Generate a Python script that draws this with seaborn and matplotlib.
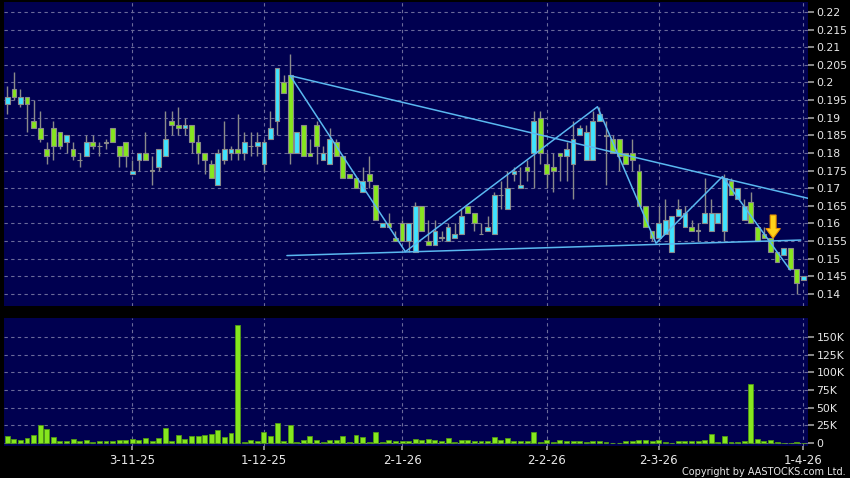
import numpy as np
import pandas as pd
import matplotlib
matplotlib.use("Agg")
import matplotlib.pyplot as plt
import seaborn as sns
from matplotlib.patches import FancyArrow
from matplotlib.ticker import FixedLocator, FuncFormatter

# ---------------- data ----------------
opens = [0.194, 0.198, 0.194, 0.196, 0.189, 0.187, 0.181, 0.187, 0.186, 0.183,
         0.181, 0.178, 0.179, 0.183, 0.182, 0.183, 0.187, 0.182, 0.183, 0.174,
         0.178, 0.180, 0.175, 0.176, 0.179, 0.189, 0.188, 0.187, 0.188, 0.183,
         0.180, 0.177, 0.171, 0.178, 0.180, 0.181, 0.180, 0.182, 0.182, 0.177,
         0.184, 0.189, 0.200, 0.202, 0.180, 0.188, 0.180, 0.188, 0.178, 0.177,
         0.183, 0.179, 0.174, 0.173, 0.169, 0.174, 0.171, 0.159, 0.160, 0.156,
         0.160, 0.155, 0.152, 0.165, 0.155, 0.154, 0.156, 0.155, 0.156, 0.157,
         0.165, 0.163, 0.157, 0.158, 0.157, 0.168, 0.164, 0.174, 0.170, 0.176,
         0.180, 0.190, 0.177, 0.176, 0.180, 0.179, 0.177, 0.185, 0.178, 0.178,
         0.189, 0.185, 0.184, 0.184, 0.180, 0.180, 0.175, 0.165, 0.158, 0.156,
         0.157, 0.152, 0.162, 0.159, 0.159, 0.158, 0.160, 0.158, 0.160, 0.158,
         0.172, 0.167, 0.161, 0.166, 0.159, 0.157, 0.156, 0.152, 0.151, 0.153,
         0.147, 0.144]
highs = [0.199, 0.203, 0.198, 0.196, 0.195, 0.192, 0.183, 0.189, 0.186, 0.185,
         0.183, 0.180, 0.185, 0.185, 0.183, 0.184, 0.187, 0.182, 0.183, 0.178,
         0.180, 0.186, 0.179, 0.181, 0.192, 0.192, 0.193, 0.190, 0.188, 0.185,
         0.180, 0.178, 0.181, 0.189, 0.182, 0.191, 0.186, 0.186, 0.186, 0.184,
         0.192, 0.204, 0.202, 0.208, 0.186, 0.188, 0.184, 0.189, 0.182, 0.187,
         0.184, 0.179, 0.174, 0.173, 0.176, 0.179, 0.171, 0.160, 0.163, 0.158,
         0.161, 0.160, 0.166, 0.165, 0.161, 0.161, 0.158, 0.160, 0.160, 0.164,
         0.165, 0.163, 0.160, 0.162, 0.169, 0.172, 0.175, 0.176, 0.176, 0.178,
         0.192, 0.192, 0.180, 0.180, 0.180, 0.183, 0.189, 0.188, 0.188, 0.192,
         0.193, 0.189, 0.185, 0.184, 0.180, 0.184, 0.177, 0.165, 0.158, 0.165,
         0.167, 0.162, 0.167, 0.165, 0.161, 0.160, 0.173, 0.167, 0.163, 0.174,
         0.173, 0.170, 0.167, 0.169, 0.159, 0.159, 0.156, 0.152, 0.153, 0.153,
         0.147, 0.145]
lows = [0.191, 0.195, 0.193, 0.186, 0.187, 0.183, 0.177, 0.178, 0.181, 0.180,
        0.178, 0.176, 0.179, 0.181, 0.179, 0.181, 0.183, 0.176, 0.176, 0.174,
        0.175, 0.178, 0.171, 0.175, 0.179, 0.185, 0.185, 0.185, 0.180, 0.177,
        0.174, 0.173, 0.171, 0.177, 0.178, 0.178, 0.178, 0.179, 0.179, 0.175,
        0.184, 0.185, 0.197, 0.177, 0.180, 0.179, 0.179, 0.177, 0.178, 0.177,
        0.179, 0.173, 0.173, 0.170, 0.169, 0.170, 0.161, 0.159, 0.159, 0.155,
        0.155, 0.152, 0.152, 0.158, 0.154, 0.154, 0.155, 0.155, 0.156, 0.157,
        0.163, 0.158, 0.157, 0.158, 0.157, 0.164, 0.164, 0.172, 0.170, 0.172,
        0.170, 0.177, 0.170, 0.169, 0.172, 0.172, 0.167, 0.185, 0.178, 0.178,
        0.189, 0.171, 0.180, 0.175, 0.177, 0.175, 0.165, 0.159, 0.155, 0.155,
        0.157, 0.152, 0.162, 0.159, 0.158, 0.155, 0.160, 0.158, 0.160, 0.155,
        0.168, 0.167, 0.161, 0.160, 0.155, 0.156, 0.152, 0.149, 0.151, 0.147,
        0.140, 0.144]
closes = [0.196, 0.196, 0.196, 0.194, 0.187, 0.184, 0.179, 0.182, 0.182, 0.185,
          0.179, 0.178, 0.183, 0.182, 0.182, 0.183, 0.183, 0.179, 0.179, 0.175,
          0.180, 0.178, 0.175, 0.181, 0.184, 0.188, 0.187, 0.188, 0.183, 0.180,
          0.178, 0.173, 0.180, 0.181, 0.181, 0.180, 0.183, 0.182, 0.183, 0.183,
          0.187, 0.204, 0.197, 0.180, 0.186, 0.179, 0.179, 0.182, 0.180, 0.184,
          0.179, 0.173, 0.173, 0.170, 0.172, 0.172, 0.161, 0.160, 0.159, 0.155,
          0.155, 0.160, 0.165, 0.158, 0.154, 0.158, 0.156, 0.159, 0.157, 0.162,
          0.163, 0.160, 0.157, 0.159, 0.168, 0.168, 0.170, 0.175, 0.171, 0.175,
          0.189, 0.180, 0.174, 0.175, 0.179, 0.181, 0.184, 0.187, 0.186, 0.189,
          0.191, 0.185, 0.180, 0.179, 0.177, 0.178, 0.165, 0.159, 0.156, 0.160,
          0.161, 0.162, 0.164, 0.163, 0.158, 0.158, 0.163, 0.163, 0.163, 0.173,
          0.168, 0.170, 0.165, 0.160, 0.155, 0.156, 0.152, 0.149, 0.153, 0.147,
          0.143, 0.145]
volumes = [9400, 5700, 3800, 7000, 11800, 26000, 19800, 8000, 2400, 2400,
           5700, 3300, 4000, 1400, 2800, 2800, 2800, 4000, 4000, 5700,
           5000, 6600, 2400, 6600, 20800, 2800, 11800, 5700, 10400, 9400,
           11300, 12700, 18400, 8500, 14200, 166500, 1400, 5000, 2800, 15000,
           10400, 27800, 3300, 25000, 1000, 3800, 9400, 3800, 1400, 5000,
           4000, 9900, 1400, 11300, 8000, 1400, 15600, 1400, 4000, 2400,
           3300, 3000, 5700, 3800, 5700, 3800, 2800, 6600, 1400, 4000,
           4000, 2400, 2400, 2400, 8500, 3800, 7000, 2800, 2800, 2800,
           15000, 1400, 4700, 1400, 3800, 2400, 2400, 2800, 1400, 2400,
           2400, 1400, 200, 500, 2400, 2400, 5000, 3800, 2800, 3800,
           1000, 200, 2400, 2400, 2400, 2800, 3800, 12300, 1400, 10400,
           1400, 1400, 2400, 83000, 6000, 2400, 5000, 1400, 200, 200,
           1400, 300]

tick_index = [19, 39, 60, 82, 99, 121]
tick_labels = ["3-11-25", "1-12-25", "2-1-26", "2-2-26", "2-3-26", "1-4-26"]

# drawn trend lines (candle index, price)
upper_line_x = [43, 122]
upper_line_y = [0.2019, 0.1670]
zigzag_x = [43, 60.5, 89.7, 98.6, 108.7, 119]
zigzag_y = [0.2019, 0.1520, 0.1931, 0.1544, 0.1733, 0.1468]
support_x = [42.5, 120.6]
support_y = [0.1509, 0.1553]
arrow_x = 116.4
arrow_top = 0.1624
arrow_bottom = 0.1558

# ---------------- styling ----------------
sns.set_theme(style="dark")
plt.rcParams['font.family'] = ['DejaVu Sans']

BG = '#000050'
UP = '#3fe3ff'
DOWN = '#86e61e'
EDGE = '#8a8a8a'
GRID = '#6a6a9a'
TXT = '#e8e8e8'
LINE = '#5ab8f0'

df = pd.DataFrame({'idx': np.arange(len(opens)), 'open': opens, 'high': highs,
                   'low': lows, 'close': closes, 'volume': volumes})

fig = plt.figure(figsize=(8.5, 4.78), dpi=100, facecolor='black')
ax = fig.add_axes([4 / 850, 1 - 306 / 478, 804 / 850, 304 / 478])
axv = fig.add_axes([4 / 850, 1 - 446 / 478, 804 / 850, 128 / 478])

for a in (ax, axv):
    a.set_facecolor(BG)
    for s in a.spines.values():
        s.set_visible(False)

# ---- candles ----
ax.vlines(df['idx'], df['low'], df['high'], color=EDGE, linewidth=1.0, zorder=2)
body_bottom = df[['open', 'close']].min(axis=1)
body_h = (df['close'] - df['open']).abs()
colors = np.where(df['close'] > df['open'], UP,
                  np.where(df['close'] < df['open'], DOWN, EDGE))
body_h_draw = body_h.where(body_h > 0, 0.00012)
body_bottom_draw = body_bottom.where(body_h > 0, body_bottom - 0.00006)
ax.bar(df['idx'], body_h_draw, bottom=body_bottom_draw, width=0.72,
       color=colors, edgecolor=EDGE, linewidth=0.8, zorder=3)

# ---- trend lines ----
for lx, ly in ((upper_line_x, upper_line_y), (zigzag_x, zigzag_y),
               (support_x, support_y)):
    sns.lineplot(x=lx, y=ly, ax=ax, color=LINE, linewidth=1.1,
                 sort=False, estimator=None, zorder=4)

# ---- arrow ----
ax.add_patch(FancyArrow(arrow_x, arrow_top, 0, -(arrow_top - arrow_bottom),
                        width=0.9, head_width=2.2,
                        head_length=(arrow_top - arrow_bottom) * 0.42,
                        length_includes_head=True, facecolor='#ffd21a',
                        edgecolor='#e89000', linewidth=0.8, zorder=5))

xlim = (-0.5, 121.7)
ax.set_xlim(*xlim)
ax.set_ylim(0.1366, 0.2228)
ax.yaxis.tick_right()
yt = np.round(np.arange(0.14, 0.2201, 0.005), 3)
ax.yaxis.set_major_locator(FixedLocator(yt))
ax.yaxis.set_major_formatter(FuncFormatter(lambda v, p: f"{v:g}"))
ax.xaxis.set_major_locator(FixedLocator(tick_index))
ax.set_xticklabels([])
ax.tick_params(axis='x', length=0)
ax.tick_params(axis='y', which='both', right=True, left=False, length=4,
               color='#9a9a9a', labelcolor=TXT, labelsize=7.8, pad=2)
ax.grid(True, color=GRID, linestyle=(0, (3, 3)), linewidth=0.8, zorder=0)
ax.set_axisbelow(True)
ax.set_xlabel('')
ax.set_ylabel('')

# ---- volume ----
sns.barplot(data=df, x='idx', y='volume', native_scale=True, ax=axv,
            color=DOWN, saturation=1, width=0.75, edgecolor='#4f9a14',
            linewidth=0.6, zorder=3)
axv.set_xlim(*xlim)
axv.set_ylim(-4200, 177000)
axv.yaxis.tick_right()
vt = [0, 25000, 50000, 75000, 100000, 125000, 150000]
axv.yaxis.set_major_locator(FixedLocator(vt))
axv.yaxis.set_major_formatter(FuncFormatter(lambda v, p: "0" if v == 0 else f"{int(v / 1000)}K"))
axv.xaxis.set_major_locator(FixedLocator(tick_index))
axv.set_xticklabels(tick_labels)
axv.tick_params(axis='x', bottom=True, length=3, color='#9a9a9a',
                labelcolor=TXT, labelsize=8.5, pad=3)
axv.tick_params(axis='y', right=True, left=False, length=4, color='#9a9a9a',
                labelcolor=TXT, labelsize=7.8, pad=2)
axv.grid(True, color=GRID, linestyle=(0, (3, 3)), linewidth=0.8, zorder=0)
axv.set_axisbelow(True)
axv.set_xlabel('')
axv.set_ylabel('')

fig.text(0.995, 1 / 478, "Copyright by AASTOCKS.com Ltd.", ha='right', va='bottom',
         color=TXT, fontsize=7)

fig.savefig("out.png", dpi=100, facecolor='black')
